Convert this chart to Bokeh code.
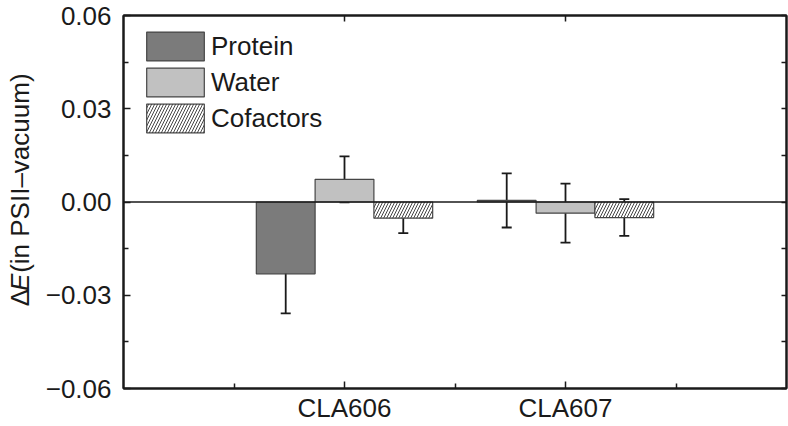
import math
from bokeh.plotting import figure
from bokeh.layouts import row
from bokeh.models import (Range1d, LinearAxis, FixedTicker, Whisker, TeeHead,
                          ColumnDataSource, Span, Legend, LegendItem)
from bokeh.core.properties import value
from bokeh.embed import file_html
from bokeh.resources import INLINE

# ---- data ----
categories = ["CLA606", "CLA607"]
cat_pos = [1.0, 2.0]
series = ["Protein", "Water", "Cofactors"]
protein = [-0.0231, 0.0005]
protein_err = [0.0127, 0.0087]
water = [0.0073, -0.0036]
water_err = [0.0074, 0.0095]
cofactors = [-0.0052, -0.0050]
cofactors_err = [0.0048, 0.0059]
y_ticks = [-0.06, -0.03, 0.0, 0.03, 0.06]
y_tick_labels = ["\u22120.06", "\u22120.03", "0.00", "0.03", "0.06"]
y_minor = [-0.045, -0.015, 0.015, 0.045]
x_minor = [0.5, 1.5, 2.5]
y_title_parts = ["\u0394", "E", "(in PSII\u2013vacuum)"]

FONT = "Liberation Sans"
INK = "#1a1a1a"
EDGE = "#454545"
H = 425
TW = 40  # width of the strip holding the y-axis title

# ---- strip with the y-axis title ----
t = figure(width=TW, height=H, output_backend="svg", toolbar_location=None,
           x_range=Range1d(0, TW), y_range=Range1d(H, 0),
           x_axis_type=None, y_axis_type=None,
           min_border_left=0, min_border_right=0, min_border_top=0, min_border_bottom=0)
t.outline_line_color = None
t.background_fill_color = "white"
t.border_fill_color = "white"
fs = 26
start = 330
# advance widths (em) of the pieces and the gap (space) before the last one
widths = [0.667, 0.667, 7.70]
gaps = [0.0, 0.0, 0.6]
styles = ["normal", "italic", "normal"]
pos = 0.0
for part, w, g, st in zip(y_title_parts, widths, gaps, styles):
    pos += g * fs
    centre = start - (pos + w * fs / 2)
    pos += w * fs
    t.text(x=[19], y=[centre], text=[part], angle=math.pi / 2,
           text_font=value(FONT), text_font_size=f"{fs}px", text_font_style=st,
           text_color=INK, text_align="center", text_baseline="middle")

# ---- main plot ----
p = figure(width=788 - TW, height=H, output_backend="svg", toolbar_location=None,
           x_range=Range1d(0, 3), y_range=Range1d(-0.06, 0.06),
           x_axis_type=None, y_axis_type=None,
           min_border_left=123 - TW, min_border_right=2, min_border_top=15, min_border_bottom=37)
p.outline_line_color = INK
p.outline_line_width = 2
p.background_fill_color = "white"
p.border_fill_color = "white"

def style_axis(ax, tin, mtin):
    ax.axis_line_color = INK
    ax.axis_line_width = 2
    ax.major_tick_in = tin
    ax.major_tick_out = 0
    ax.minor_tick_in = mtin
    ax.minor_tick_out = 0
    ax.major_tick_line_color = INK
    ax.major_tick_line_width = 1.5
    ax.minor_tick_line_color = INK
    ax.minor_tick_line_width = 1.5
    ax.major_label_text_font = FONT
    ax.major_label_text_font_size = "26px"
    ax.major_label_text_color = INK

xb = LinearAxis(ticker=FixedTicker(ticks=cat_pos, minor_ticks=x_minor),
                major_label_overrides={c: l for c, l in zip(cat_pos, categories)})
style_axis(xb, 7, 5)
xb.major_label_standoff = 4
p.add_layout(xb, "below")

yl = LinearAxis(ticker=FixedTicker(ticks=y_ticks, minor_ticks=y_minor),
                major_label_overrides={tk: l for tk, l in zip(y_ticks, y_tick_labels)})
style_axis(yl, 7, 5)
yl.major_label_standoff = 12
p.add_layout(yl, "left")

xt = LinearAxis(ticker=FixedTicker(ticks=[], minor_ticks=cat_pos))
style_axis(xt, 6, 6)
xt.major_label_standoff = 0
p.add_layout(xt, "above")

yr = LinearAxis(ticker=FixedTicker(ticks=[], minor_ticks=y_ticks + y_minor))
style_axis(yr, 5, 5)
yr.major_label_standoff = 0
p.add_layout(yr, "right")

# ---- bars ----
bw = 0.266
offsets = [-bw, 0.0, bw]
vals = [protein, water, cofactors]
errs = [protein_err, water_err, cofactors_err]
fills = ["#7b7b7b", "#c1c1c1", "white"]

renderers = []
sources = []
for k in range(3):
    src = ColumnDataSource(dict(
        x=[c + offsets[k] for c in cat_pos],
        top=vals[k],
        upper=[v + e for v, e in zip(vals[k], errs[k])],
        lower=[v - e for v, e in zip(vals[k], errs[k])],
    ))
    kw = dict(fill_color=fills[k], line_color=EDGE, line_width=1.2)
    if k == 2:
        kw.update(hatch_pattern="/", hatch_color=EDGE, hatch_scale=6, hatch_weight=1)
    r = p.vbar(x="x", top="top", bottom=0, width=bw, source=src, **kw)
    renderers.append(r)
    sources.append(src)

p.add_layout(Span(location=0, dimension="width", line_color=INK, line_width=1.5))

for src in sources:
    p.add_layout(Whisker(base="x", upper="upper", lower="lower", source=src,
                         line_color=INK, line_width=1.8,
                         upper_head=TeeHead(size=10, line_color=INK, line_width=1.8),
                         lower_head=TeeHead(size=10, line_color=INK, line_width=1.8)))

legend = Legend(items=[LegendItem(label=s, renderers=[r]) for s, r in zip(series, renderers)],
                location=(16, 252), orientation="vertical",
                glyph_width=72, glyph_height=36, spacing=-3,
                label_text_font=FONT, label_text_font_size="26px", label_text_color=INK,
                label_standoff=0, label_height=29,
                padding=0, margin=0, border_line_color=None, background_fill_alpha=0)
p.add_layout(legend)

layout = row(t, p, spacing=0)
open("out.html", "w").write(file_html(layout, INLINE))
